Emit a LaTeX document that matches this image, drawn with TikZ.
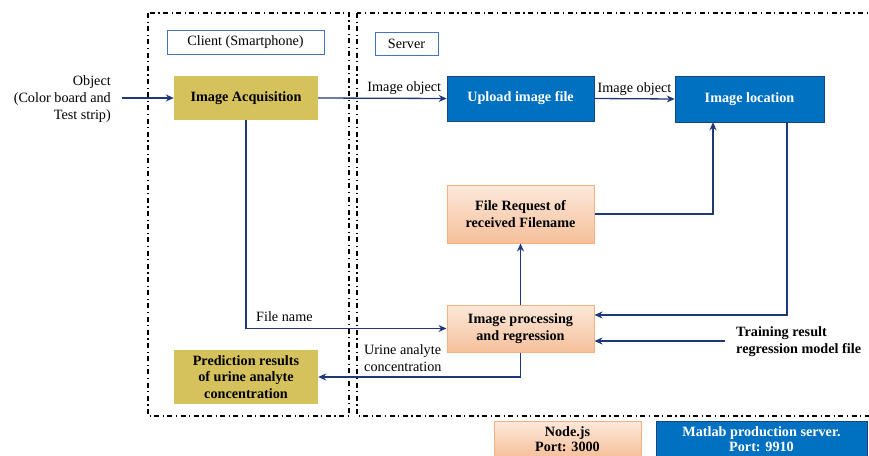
\documentclass[tikz,border=0pt]{standalone}
\usepackage{fontspec}
\setmainfont{Liberation Serif}
\usetikzlibrary{arrows.meta}
\definecolor{khaki}{RGB}{214,194,92}
\definecolor{boxblue}{RGB}{0,112,192}
\definecolor{blueedge}{RGB}{20,70,130}
\definecolor{navy}{RGB}{31,56,120}
\definecolor{peachtop}{RGB}{252,232,218}
\definecolor{peachbot}{RGB}{246,192,155}
\definecolor{peachedge}{RGB}{244,177,131}
\definecolor{labedge}{RGB}{68,114,196}
\begin{document}
\begin{tikzpicture}[x=1pt,y=-1pt,
  every node/.style={font=\fontsize{14.2}{17}\selectfont},
  khakibox/.style={fill=khaki,draw=none,align=center,font=\fontsize{14.2}{16.5}\selectfont\bfseries,inner sep=0pt},
  bluebox/.style={fill=boxblue,draw=blueedge,line width=0.6pt,text=white,align=center,font=\fontsize{14.2}{16.5}\selectfont\bfseries,inner sep=0pt},
  peachbox/.style={top color=peachtop,bottom color=peachbot,draw=peachedge,line width=1pt,align=center,font=\fontsize{14.2}{16.5}\selectfont\bfseries,inner sep=0pt},
  legendfont/.style={font=\fontsize{14.2}{15}\selectfont\bfseries},
  labbox/.style={draw=labedge,line width=1pt,fill=white,inner sep=0pt},
  zone/.style={draw=black,line width=1.1pt,dash pattern=on 5pt off 3.5pt on 1.2pt off 3.5pt},
  conn/.style={draw=navy,line width=1.3pt,-{Stealth[length=8pt,width=7pt]}},
  plain/.style={draw=navy,line width=1.3pt}]
\useasboundingbox (0,0) rectangle (869,455);
\clip (0,0) rectangle (869,455);
% zones
\draw[zone] (148,13) rectangle (349,416);
\draw[zone] (357,13) rectangle (900,416);
% labels
\node[labbox,minimum width=157pt,minimum height=24pt] (clientlab) at (245.5,42) {Client (Smartphone)};
\node[labbox,minimum width=63pt,minimum height=23pt] (serverlab) at (406.5,43.5) {Server};
% nodes
\node[khakibox,minimum width=144pt,minimum height=44pt] (acq) at (246,98) {Image Acquisition};
\node[bluebox,minimum width=147pt,minimum height=45pt] (upload) at (520.5,98.5) {Upload image file};
\node[bluebox,minimum width=149pt,minimum height=46pt] (loc) at (749.5,99) {Image location};
\node[peachbox,minimum width=147pt,minimum height=58pt] (freq) at (520.5,214) {File Request of\\received Filename};
\node[peachbox,minimum width=147pt,minimum height=47pt] (proc) at (520.5,328.5) {Image processing\\and regression};
\node[khakibox,minimum width=144pt,minimum height=54pt] (pred) at (246,377) {Prediction results\\of urine analyte\\concentration};
\node[peachbox,legendfont,minimum width=147pt,minimum height=36pt] (nodejs) at (567.5,439) {Node.js\\Port: 3000};
\node[bluebox,legendfont,minimum width=211pt,minimum height=36pt] (matlab) at (761.5,439) {Matlab production server.\\Port: 9910};
% text
\node[align=right,anchor=east,inner sep=0pt] (obj) at (111,99) {Object\\(Color board and\\Test strip)};
\node[align=left,anchor=west,inner sep=0pt,font=\fontsize{14.2}{17}\selectfont\bfseries] (train) at (736,342) {Training result\\regression model file};
\coordinate (objend) at (122,98);
\coordinate (trainend) at (725,341);
% connectors
\draw[conn] (objend) -- (acq.west);
\draw[conn] (acq.east) -- (upload.west) node[pos=0.67,above=3pt,inner sep=0pt] (lab1) {Image object};
\draw[conn] (upload.east) -- (loc.west) node[midway,above=3pt,inner sep=0pt] (lab2) {Image object};
\draw[conn] (freq.east) -| (loc.south -| 713,0);
\draw[conn] (loc.south -| 787,0) |- (proc.east |- 0,315);
\draw[conn] (trainend) -- (proc.east |- trainend);
\draw[conn] (proc.north) -- (freq.south);
\draw[conn] (acq.south) |- (proc.west);
\node[anchor=south west,inner sep=0pt] (lab3) at (256,322) {File name};
\draw[conn] (proc.south) |- (pred.east);
\node[anchor=north west,align=left,inner sep=0pt] (lab4) at (364,344) {Urine analyte\\concentration};
\end{tikzpicture}
\end{document}
